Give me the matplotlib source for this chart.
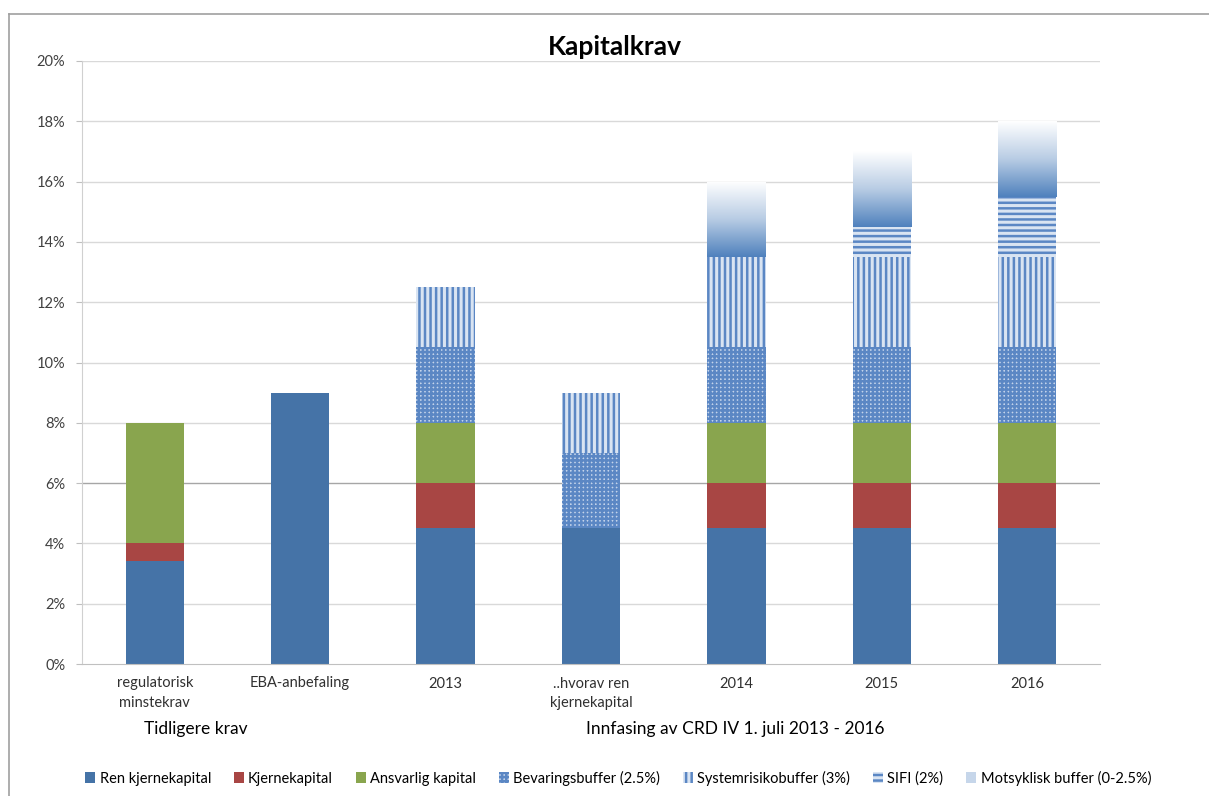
import numpy as np
import matplotlib
matplotlib.use("Agg")
import matplotlib.pyplot as plt
from matplotlib.lines import Line2D

plt.rcParams['font.family'] = ['Lato', 'DejaVu Sans']
plt.rcParams['hatch.linewidth'] = 1.8

# Capital requirement components, in percent of risk-weighted assets
categories = ['regulatorisk\nminstekrav', 'EBA-anbefaling', '2013',
              '..hvorav ren\nkjernekapital', '2014', '2015', '2016']
ren_kjerne = [3.4, 9.0, 4.5, 4.5, 4.5, 4.5, 4.5]
kjerne = [0.6, 0.0, 1.5, 0.0, 1.5, 1.5, 1.5]
ansvarlig = [4.0, 0.0, 2.0, 0.0, 2.0, 2.0, 2.0]
bevaring = [0.0, 0.0, 2.5, 2.5, 2.5, 2.5, 2.5]
systemrisiko = [0.0, 0.0, 2.0, 2.0, 3.0, 3.0, 3.0]
sifi = [0.0, 0.0, 0.0, 0.0, 0.0, 1.0, 2.0]
motsyklisk = [0.0, 0.0, 0.0, 0.0, 2.5, 2.5, 2.5]
yticks = np.arange(0, 21, 2)

blue = '#4573a7'
hatch_blue = '#5b87c4'

fig = plt.figure(figsize=(12.09, 7.96), dpi=100)
ax = fig.add_axes([82 / 1209, 1 - 664 / 796, 1018 / 1209, 603 / 796])

x = np.arange(len(categories))
w = 0.4
bottom = np.zeros(len(categories))

series = [
    ('Ren kjernekapital', ren_kjerne, dict(color=blue)),
    ('Kjernekapital', kjerne, dict(color='#a84644')),
    ('Ansvarlig kapital', ansvarlig, dict(color='#89a54e')),
    ('Bevaringsbuffer (2.5%)', bevaring,
     dict(facecolor='#c3d3ea', edgecolor=hatch_blue, hatch='++++', linewidth=0)),
    ('Systemrisikobuffer (3%)', systemrisiko,
     dict(facecolor='#d9e4f2', edgecolor=hatch_blue, hatch='|||', linewidth=0)),
    ('SIFI (2%)', sifi,
     dict(facecolor='#d9e4f2', edgecolor=hatch_blue, hatch='---', linewidth=0)),
    ('Motsyklisk buffer (0-2.5%)', motsyklisk, dict(color='#c6d6ea')),
]

handles = []
gradient_bars = None
for label, vals, style in series:
    vals = np.array(vals)
    bars = ax.bar(x, vals, w, bottom=bottom, label=label, zorder=2, **style)
    handles.append(bars)
    if label.startswith('Motsyklisk'):
        gradient_bars = (bars, bottom.copy(), vals)
    bottom = bottom + vals

# fade the countercyclical buffer from blue at the base to white on top
cmap = matplotlib.colors.LinearSegmentedColormap.from_list(
    'fade', ['#ffffff', '#b8cce4', '#4f81bd'])
grad = np.linspace(0, 1, 256).reshape(-1, 1)
bars, base, vals = gradient_bars
for rect, b, v in zip(bars, base, vals):
    if v <= 0:
        continue
    im = ax.imshow(grad, cmap=cmap, aspect='auto', origin='upper',
                   extent=[rect.get_x(), rect.get_x() + rect.get_width(), b, b + v],
                   zorder=3)
    im.set_clip_path(rect)

ax.set_xlim(-0.5, len(categories) - 0.5)
ax.set_ylim(0, 20)
ax.set_yticks(yticks)
ax.set_yticklabels([f'{t}%' for t in yticks], fontsize=10.5, color='#404040')
ax.set_xticks(x)
ax.set_xticklabels(categories, fontsize=10.5, color='#303030', linespacing=1.5)
ax.tick_params(axis='x', length=0, pad=9)
ax.tick_params(axis='y', length=4, color='#bfbfbf', pad=8)

for t in yticks[1:]:
    ax.axhline(t, color='#a6a6a6' if t == 6 else '#d9d9d9', lw=1, zorder=1)
for side in ['top', 'right']:
    ax.spines[side].set_visible(False)
ax.spines['left'].set_color('#d0d0d0')
ax.spines['bottom'].set_color('#c0c0c0')

fig.text(615 / 1209, 1 - 47 / 796, 'Kapitalkrav', ha='center', va='center',
         fontsize=19, fontweight='bold')

ax.text(0.284, -0.108, 'Tidligere krav', transform=ax.get_xaxis_transform(),
        ha='center', va='center', fontsize=12.5)
ax.text(3.99, -0.108, 'Innfasing av CRD IV 1. juli 2013 - 2016',
        transform=ax.get_xaxis_transform(), ha='center', va='center', fontsize=12.5)

fig.legend(handles=handles, loc='center', bbox_to_anchor=(618 / 1209, 1 - 778 / 796),
           ncol=7, frameon=False, fontsize=10.5, handlelength=0.7, handleheight=0.7,
           handletextpad=0.3, columnspacing=1.55)

# outer chart frame
fig.add_artist(Line2D([9 / 1209, 1], [1 - 14 / 796] * 2, color='#a0a0a0', lw=1.2))
fig.add_artist(Line2D([9 / 1209] * 2, [0, 1 - 14 / 796], color='#a0a0a0', lw=1.2))

fig.savefig('out.png', dpi=100)
